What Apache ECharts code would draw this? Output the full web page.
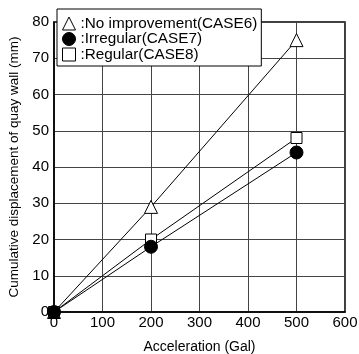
<!DOCTYPE html>
<html>
<head>
<meta charset="utf-8">
<script src="https://cdn.jsdelivr.net/npm/echarts@6/dist/echarts.min.js"></script>
<style>
html,body{margin:0;padding:0;background:#fff;}
#main{width:359px;height:354px;}
</style>
</head>
<body>
<div id="main"></div>
<script>
// 加速度 (Gal)
var accel = [0, 200, 500];
// 岸壁累积位移 (mm)
var case6 = [0, 29, 75];
var case7 = [0, 18, 44];
var case8 = [0, 20, 48];
var names = [':No improvement(CASE6)', ':Irregular(CASE7)', ':Regular(CASE8)'];

function pairs(xs, ys) {
    var out = [];
    for (var i = 0; i < xs.length; i++) out.push([xs[i], ys[i]]);
    return out;
}

var myChart = echarts.init(document.getElementById('main'));
var font = 'Liberation Sans, Arial, sans-serif';
var hollow = {color: '#fff', borderColor: '#000', borderWidth: 1};
var option = {
    animation: false,
    backgroundColor: '#fff',
    textStyle: {fontFamily: font},
    grid: {
        left: 54, right: 14, top: 22, bottom: 42,
        outerBoundsMode: 'none', containLabel: false,
        show: true, borderColor: '#000', borderWidth: 1.5
    },
    legend: {
        left: 57, top: 9,
        orient: 'vertical',
        backgroundColor: '#fff',
        borderColor: '#000',
        borderWidth: 1,
        padding: [7, 4, 4, 5],
        itemGap: 0.5,
        itemWidth: 13,
        itemHeight: 13,
        textStyle: {fontSize: 15.3, lineHeight: 14, color: '#000', fontFamily: font, padding: [0, 0, 0, 0]},
        data: [
            {name: names[0], icon: 'triangle', itemStyle: hollow},
            {name: names[1], icon: 'circle', itemStyle: {color: '#000', borderColor: '#000', borderWidth: 1}},
            {name: names[2], icon: 'rect', itemStyle: hollow}
        ]
    },
    xAxis: {
        type: 'value', min: 0, max: 600, interval: 100,
        name: 'Acceleration (Gal)', nameLocation: 'middle', nameGap: 28,
        nameTextStyle: {fontSize: 14, color: '#000'},
        axisLine: {lineStyle: {color: '#000', width: 1.5}},
        axisTick: {show: false},
        axisLabel: {fontSize: 15, color: '#000', margin: 3},
        splitLine: {lineStyle: {color: '#444', width: 1}}
    },
    yAxis: {
        type: 'value', min: 0, max: 80, interval: 10,
        name: 'Cumulative displacement of quay wall (mm)', nameLocation: 'middle', nameGap: 31,
        nameTextStyle: {fontSize: 13.5, color: '#000'},
        axisLine: {lineStyle: {color: '#000', width: 1.5}},
        axisTick: {show: false},
        axisLabel: {fontSize: 15, color: '#000', margin: 5},
        splitLine: {lineStyle: {color: '#444', width: 1}}
    },
    series: [
        {
            name: names[0], type: 'line', data: pairs(accel, case6),
            symbol: 'triangle', symbolSize: 13,
            lineStyle: {color: '#000', width: 1},
            itemStyle: hollow
        },
        {
            name: names[2], type: 'line', data: pairs(accel, case8),
            symbol: 'rect', symbolSize: 11,
            lineStyle: {color: '#000', width: 1},
            itemStyle: hollow
        },
        {
            name: names[1], type: 'line', data: pairs(accel, case7),
            symbol: 'circle', symbolSize: 13,
            lineStyle: {color: '#000', width: 1},
            itemStyle: {color: '#000', borderColor: '#000', borderWidth: 1}
        }
    ]
};
myChart.setOption(option);
</script>
</body>
</html>
